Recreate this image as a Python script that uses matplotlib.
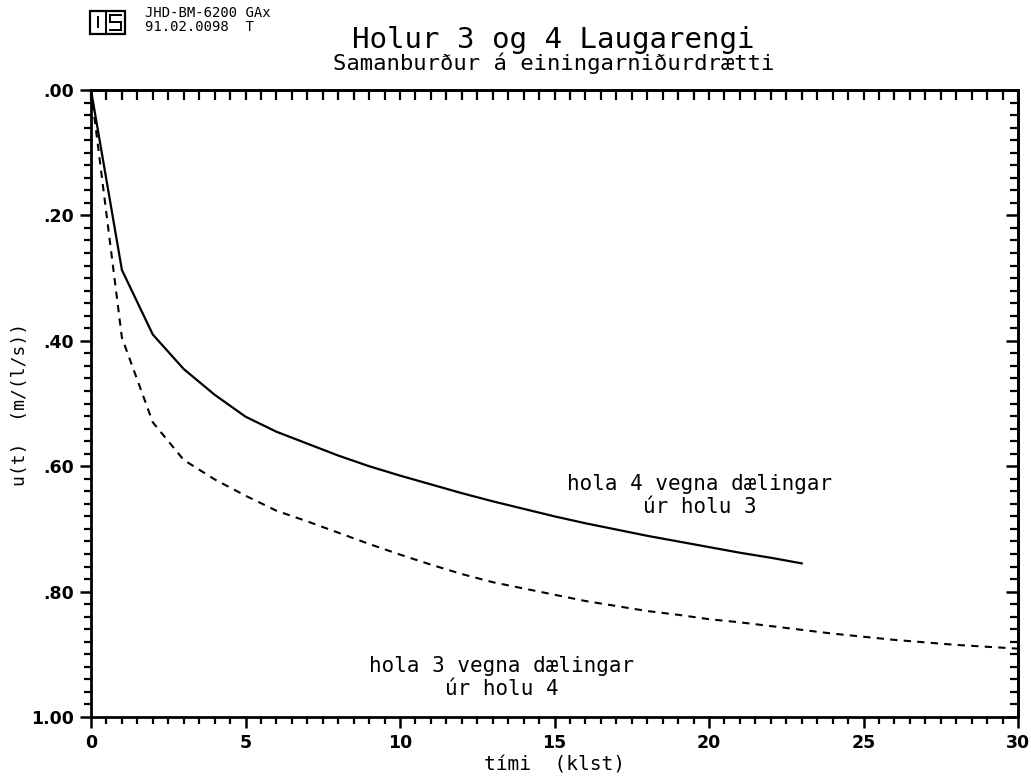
import numpy as np
import matplotlib
matplotlib.use('Agg')
import matplotlib.pyplot as plt
from matplotlib.ticker import MultipleLocator, FuncFormatter
from matplotlib.patches import Rectangle
from matplotlib.lines import Line2D

# einingarniðurdráttur, hola 4 vegna dælingar úr holu 3 (klst, m/(l/s))
t_h4 = np.arange(0, 24)
u_h4 = [0.0, 0.287, 0.390, 0.445, 0.486, 0.521, 0.545, 0.564, 0.583, 0.600,
        0.615, 0.629, 0.643, 0.656, 0.668, 0.680, 0.691, 0.701, 0.711, 0.720,
        0.729, 0.738, 0.746, 0.755]

# hola 3 vegna dælingar úr holu 4
t_h3 = np.arange(0, 31)
u_h3 = [0.0, 0.395, 0.530, 0.590, 0.621, 0.647, 0.671, 0.688, 0.706, 0.724,
        0.741, 0.757, 0.772, 0.785, 0.795, 0.805, 0.815, 0.823, 0.831, 0.837,
        0.844, 0.849, 0.855, 0.861, 0.867, 0.872, 0.877, 0.881, 0.885, 0.888,
        0.891]

mono = 'DejaVu Sans Mono'
W, H = 1031, 779

fig = plt.figure(figsize=(W / 100, H / 100), dpi=100)
ax = fig.add_axes([91/W, 1 - 717/H, (1018 - 91)/W, (717 - 90)/H])

ax.plot(t_h4, u_h4, color='black', lw=1.6)
ax.plot(t_h3, u_h3, color='black', lw=1.5, linestyle=(0, (3.5, 3)))

ax.set_xlim(0, 30)
ax.set_ylim(1.0, 0.0)

ax.xaxis.set_major_locator(MultipleLocator(5))
ax.xaxis.set_minor_locator(MultipleLocator(0.5))
ax.yaxis.set_major_locator(MultipleLocator(0.2))
ax.yaxis.set_minor_locator(MultipleLocator(0.02))
ax.yaxis.set_major_formatter(FuncFormatter(lambda v, p: f'{v:.2f}'.lstrip('0') if v < 0.999 else f'{v:.2f}'))

for s in ax.spines.values():
    s.set_linewidth(2.0)
ax.tick_params(which='major', direction='out', length=8, width=1.8, labelsize=12.5, pad=4)
ax.tick_params(which='minor', direction='out', length=5, width=1.6)
for lab in ax.get_xticklabels() + ax.get_yticklabels():
    lab.set_fontweight('semibold')

# speglaðir kvarðar efst og til hægri, inn á við
top = ax.secondary_xaxis('top')
top.xaxis.set_major_locator(MultipleLocator(5))
top.xaxis.set_minor_locator(MultipleLocator(0.5))
top.tick_params(which='both', direction='in', length=7, width=1.6, labeltop=False)
top.spines['top'].set_linewidth(2.0)
right = ax.secondary_yaxis('right')
right.yaxis.set_major_locator(MultipleLocator(0.2))
right.yaxis.set_minor_locator(MultipleLocator(0.02))
right.tick_params(which='major', direction='in', length=9, width=1.8, labelright=False)
right.tick_params(which='minor', direction='in', length=6, width=1.6)
right.spines['right'].set_linewidth(2.0)

fig.text(555/W, 1 - 765/H, 'tími  (klst)', family=mono, fontsize=14,
         ha='center', va='center')
fig.text(20/W, 1 - 404/H, 'u(t)  (m/(l/s))', family=mono, fontsize=13,
         ha='center', va='center', rotation=90)

ax.text(19.7, 0.647, 'hola 4 vegna dælingar\núr holu 3', family=mono, fontsize=15,
        ha='center', va='center', linespacing=1.2)
ax.text(13.3, 0.937, 'hola 3 vegna dælingar\núr holu 4', family=mono, fontsize=15,
        ha='center', va='center', linespacing=1.2)

fig.text(553/W, 1 - 40/H, 'Holur 3 og 4 Laugarengi', family=mono, fontsize=21,
         ha='center', va='center')
fig.text(554/W, 1 - 63/H, 'Samanburður á einingarniðurdrætti', family=mono,
         fontsize=16, ha='center', va='center')

# auðkenni og skráarnúmer efst til vinstri
def px(x, y):
    return x / W, 1 - y / H
x0, y0 = px(90, 34)
fig.add_artist(Rectangle((x0, y0), 35/W, 23/H, transform=fig.transFigure,
                         fill=False, lw=1.6, color='black'))
for seg in [((106, 11), (106, 34)), ((98, 17), (98, 27)),
            ((121, 15), (110, 15)), ((110, 15), (110, 22)), ((110, 22), (121, 22)),
            ((121, 22), (121, 30)), ((121, 30), (110, 30))]:
    (a, b), (c, d) = px(*seg[0]), px(*seg[1])
    fig.add_artist(Line2D([a, c], [b, d], transform=fig.transFigure, color='black', lw=1.4))
fig.text(145/W, 1 - 13/H, 'JHD-BM-6200 GAx', family=mono, fontsize=10, va='center')
fig.text(145/W, 1 - 27/H, '91.02.0098  T', family=mono, fontsize=10, va='center')

fig.savefig('out.png', dpi=100)
